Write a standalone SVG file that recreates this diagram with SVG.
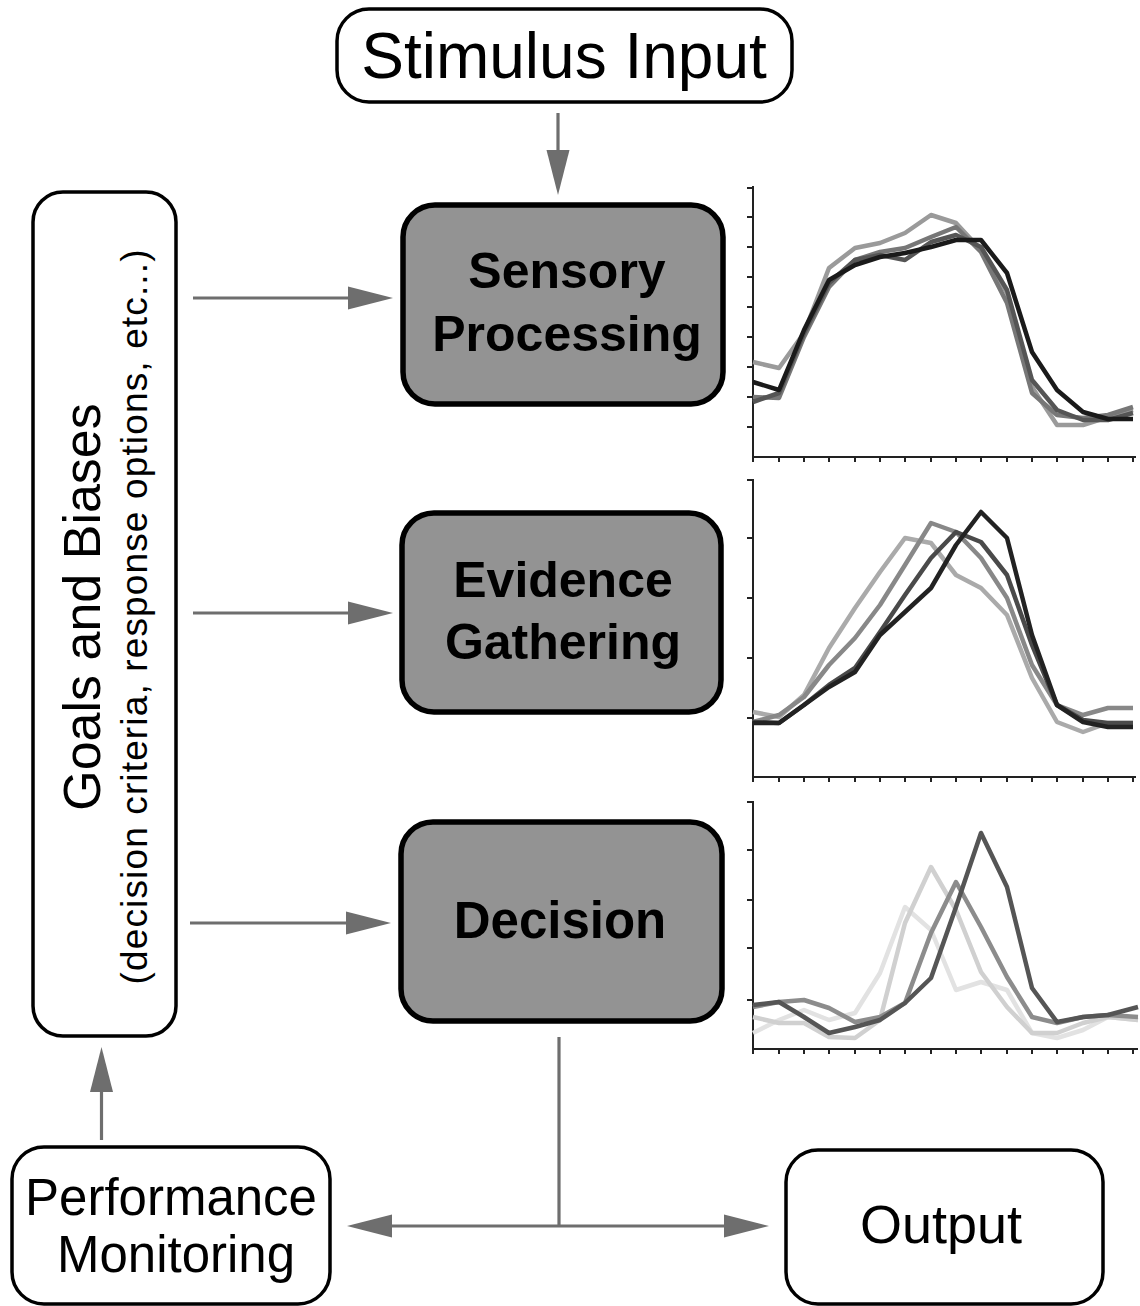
<svg xmlns="http://www.w3.org/2000/svg" width="1140" height="1306" viewBox="0 0 1140 1306">
<style>
.box{fill:#fff;stroke:#000;stroke-width:3.5}
.proc{fill:#939393;stroke:#000;stroke-width:5.5}
.t{font-family:"Liberation Sans",Arial,sans-serif;fill:#000}
.b{font-weight:bold}
.g{stroke:#6e6e6e;stroke-width:3.2;fill:none}
.k{stroke:#000;stroke-width:8;fill:none}
.ax{stroke:#222;stroke-width:2;fill:none}
.ln{fill:none;stroke-width:4.5;stroke-linejoin:round}
</style>
<defs>
<marker id="ga" markerUnits="userSpaceOnUse" markerWidth="45" markerHeight="23" refX="0" refY="11.5" orient="auto" overflow="visible">
<path d="M0,0 L45,11.5 L0,23 Z" fill="#6e6e6e"/>
</marker>
<marker id="ka" markerUnits="userSpaceOnUse" markerWidth="47" markerHeight="24" refX="0" refY="12" orient="auto" overflow="visible">
<path d="M0,0 L47,12 L0,24 Z" fill="#000"/>
</marker>
<filter id="sh" x="-50%" y="-20%" width="200%" height="140%">
<feDropShadow dx="2.5" dy="2.5" stdDeviation="1.8" flood-color="#000" flood-opacity="0.45"/>
</filter>
</defs>

<g id="stimulus">
<rect class="box" x="337" y="9" width="455" height="93" rx="32"/>
<text class="t" x="564" y="78" font-size="64" text-anchor="middle">Stimulus Input</text>
</g>

<g id="sensory">
<rect class="proc" x="403" y="205" width="320" height="199" rx="32"/>
<text class="t b" x="567" y="288" font-size="50" text-anchor="middle">Sensory</text>
<text class="t b" x="567" y="351" font-size="50" text-anchor="middle">Processing</text>
</g>

<g id="evidence">
<rect class="proc" x="402" y="513" width="319" height="199" rx="32"/>
<text class="t b" x="563" y="597" font-size="50" text-anchor="middle">Evidence</text>
<text class="t b" x="563" y="659" font-size="50" text-anchor="middle">Gathering</text>
</g>

<g id="decision">
<rect class="proc" x="401" y="822" width="321" height="199" rx="32"/>
<text class="t b" x="560" y="938" font-size="51" text-anchor="middle">Decision</text>
</g>

<g id="goals">
<rect class="box" x="33" y="192" width="143" height="844" rx="30"/>
<text class="t" x="100" y="607" font-size="52" text-anchor="middle" transform="rotate(-90 100 607)">Goals and Biases</text>
<text class="t" x="147" y="617" font-size="37" text-anchor="middle" textLength="735" lengthAdjust="spacing" transform="rotate(-90 147 617)">(decision criteria, response options, etc...)</text>
</g>

<g id="performance">
<rect class="box" x="12" y="1147" width="318" height="157" rx="32"/>
<text class="t" x="171" y="1215" font-size="51" text-anchor="middle">Performance</text>
<text class="t" x="176" y="1272" font-size="51" text-anchor="middle">Monitoring</text>
</g>

<g id="output">
<rect class="box" x="786" y="1150" width="317" height="154" rx="32"/>
<text class="t" x="941" y="1243" font-size="54" text-anchor="middle">Output</text>
</g>

<g id="connectors">
<line class="g" x1="558" y1="113" x2="558" y2="150" marker-end="url(#ga)"/>
<line class="g" x1="193" y1="298" x2="348" y2="298" marker-end="url(#ga)"/>
<line class="g" x1="193" y1="613" x2="348" y2="613" marker-end="url(#ga)"/>
<line class="g" x1="190" y1="923" x2="346" y2="923" marker-end="url(#ga)"/>
<line class="g" x1="101.5" y1="1140" x2="101.5" y2="1092" marker-end="url(#ga)"/>
<line class="g" x1="559" y1="1037" x2="559" y2="1226"/>
<line class="g" x1="559" y1="1226" x2="392" y2="1226" marker-end="url(#ga)"/>
<line class="g" x1="559" y1="1226" x2="724" y2="1226" marker-end="url(#ga)"/>
<g filter="url(#sh)">
<line class="k" x1="559" y1="415" x2="559" y2="448" marker-end="url(#ka)"/>
<line class="k" x1="559" y1="725" x2="559" y2="758" marker-end="url(#ka)"/>
</g>
</g>

<g id="chart1">
<path class="ax" d="M753,186 V457 H1136"/>
<path class="ax" d="M747,188h6M747,217h6M747,247h6M747,277h6M747,307h6M747,337h6M747,367h6M747,397h6M747,427h6M753,457v5M779,457v5M804,457v5M829,457v5M855,457v5M880,457v5M905,457v5M931,457v5M956,457v5M981,457v5M1007,457v5M1032,457v5M1057,457v5M1083,457v5M1108,457v5M1133,457v5"/>
<polyline class="ln" stroke="#9a9a9a" points="753,362 779,368 804,333 829,268 855,248 880,243 905,233 931,215 956,223 981,250 1007,293 1032,387 1057,425 1083,425 1108,417 1133,410"/>
<polyline class="ln" stroke="#777" points="753,397 779,398 804,337 829,287 855,260 880,252 905,248 931,237 956,227 981,252 1007,303 1032,393 1057,415 1083,418 1108,415 1133,407"/>
<polyline class="ln" stroke="#555" points="753,402 779,393 804,333 829,283 855,260 880,255 905,260 931,242 956,235 981,247 1007,290 1032,380 1057,410 1083,420 1108,420 1133,413"/>
<polyline class="ln" stroke="#1a1a1a" points="753,382 779,390 804,330 829,280 855,265 880,257 905,253 931,247 956,240 981,240 1007,273 1032,352 1057,390 1083,412 1108,419 1133,419"/>
</g>

<g id="chart2">
<path class="ax" d="M753,479 V777 H1136"/>
<path class="ax" d="M747,480h6M747,538h6M747,598h6M747,658h6M747,718h6M753,777v5M779,777v5M804,777v5M829,777v5M855,777v5M880,777v5M905,777v5M931,777v5M956,777v5M981,777v5M1007,777v5M1032,777v5M1057,777v5M1083,777v5M1108,777v5M1133,777v5"/>
<polyline class="ln" stroke="#aaa" points="753,712 779,717 804,695 829,648 855,608 880,572 905,538 931,543 956,575 981,588 1007,615 1032,678 1057,722 1083,732 1108,723 1133,723"/>
<polyline class="ln" stroke="#888" points="753,722 779,715 804,697 829,665 855,638 880,605 905,565 931,523 956,532 981,558 1007,598 1032,665 1057,705 1083,715 1108,708 1133,708"/>
<polyline class="ln" stroke="#4a4a4a" points="753,722 779,723 804,705 829,685 855,668 880,632 905,595 931,558 956,532 981,542 1007,575 1032,645 1057,705 1083,720 1108,723 1133,723"/>
<polyline class="ln" stroke="#222" points="753,723 779,723 804,705 829,687 855,672 880,635 905,612 931,588 956,545 981,512 1007,538 1032,635 1057,705 1083,722 1108,727 1133,727"/>
</g>

<g id="chart3">
<path class="ax" d="M753,801 V1049 H1138"/>
<path class="ax" d="M747,802h6M747,850h6M747,900h6M747,948h6M747,1000h6M753,1049v5M779,1049v5M804,1049v5M829,1049v5M855,1049v5M880,1049v5M905,1049v5M931,1049v5M956,1049v5M981,1049v5M1007,1049v5M1032,1049v5M1057,1049v5M1083,1049v5M1108,1049v5M1133,1049v5"/>
<polyline class="ln" stroke="#e2e2e2" points="753,1033 779,1020 804,1010 829,1020 855,1013 880,973 905,907 931,930 956,990 981,982 1007,990 1032,1033 1057,1038 1083,1030 1108,1017 1138,1020"/>
<polyline class="ln" stroke="#d0d0d0" points="753,1017 779,1023 804,1023 829,1037 855,1038 880,1020 905,923 931,867 956,910 981,972 1007,1007 1032,1033 1057,1033 1083,1023 1108,1017 1138,1020"/>
<polyline class="ln" stroke="#8c8c8c" points="753,1007 779,1002 804,1000 829,1008 855,1022 880,1017 905,1003 931,933 956,882 981,927 1007,977 1032,1017 1057,1023 1083,1017 1108,1015 1138,1017"/>
<polyline class="ln" stroke="#555" points="753,1005 779,1002 804,1017 829,1033 855,1027 880,1020 905,1003 931,978 956,907 981,833 1007,887 1032,988 1057,1022 1083,1017 1108,1015 1138,1007"/>
</g>
</svg>
